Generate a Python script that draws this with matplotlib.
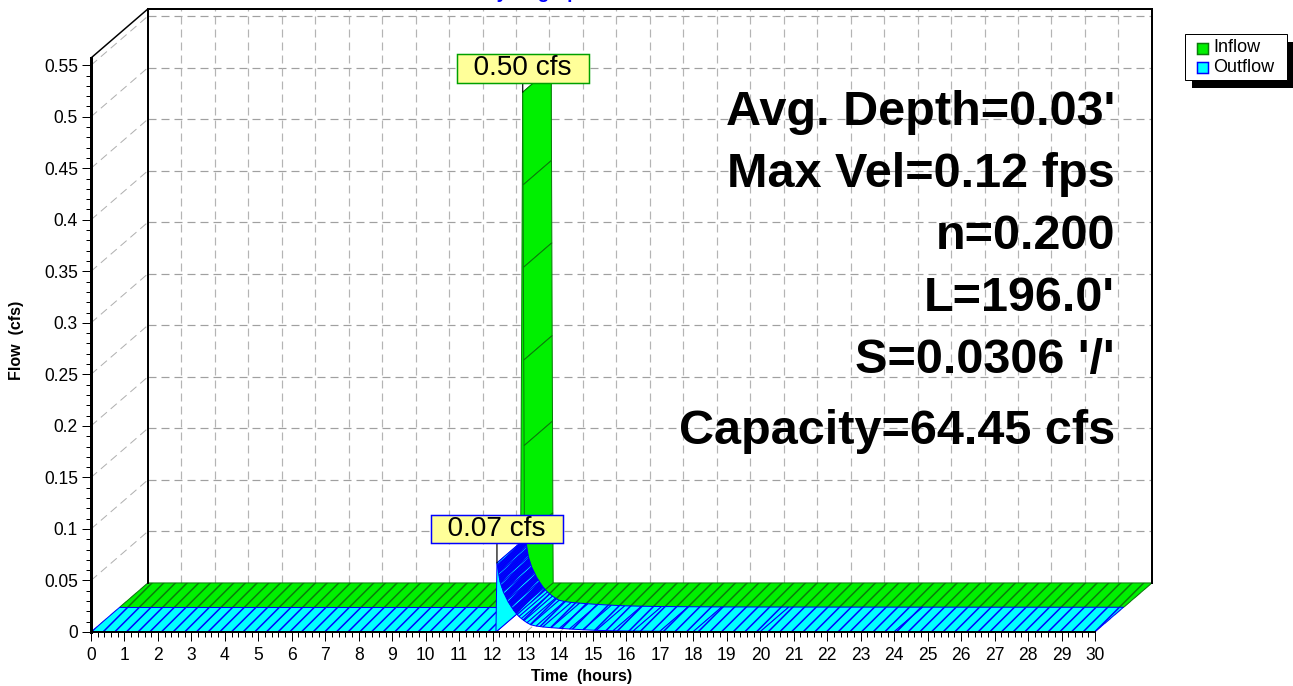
import matplotlib

matplotlib.use("Agg")
import matplotlib.pyplot as plt
import numpy as np
from matplotlib.patches import Polygon, Rectangle
from matplotlib.ticker import FuncFormatter, MultipleLocator

W, H, DPI = 1294, 686, 140
PT = 72 / DPI  # pixel -> point

plt.rcParams["font.family"] = ["Liberation Sans", "DejaVu Sans"]
plt.rcParams["hatch.linewidth"] = 1.5 * PT
plt.rcParams["lines.scale_dashes"] = False

# hydrographs (hours, cfs)
inflow_t = [0.0, 11.98, 12.05, 12.06, 12.07, 12.08, 12.09, 12.10, 12.11, 30.0]
inflow_q = [0.0, 0.0, 0.50, 0.41, 0.33, 0.24, 0.157, 0.068, 0.0, 0.0]
outflow_t = [0.0, 12.10, 12.13, 12.14, 12.15, 12.16, 12.17, 12.18, 12.19, 12.20,
             12.21, 12.22, 12.24, 12.26, 12.28, 12.30, 12.32, 12.35, 12.38, 12.41,
             12.44, 12.47, 12.51, 12.55, 12.59, 12.63, 12.68, 12.73, 12.79, 12.86,
             12.94, 13.03, 13.14, 13.30, 13.50, 13.75, 14.00, 14.30, 14.70, 15.10,
             15.60, 16.20, 17.00, 18.00, 20.00, 24.00, 30.00]
outflow_q = [0.0, 0.0, 0.067, 0.065, 0.063, 0.061, 0.059, 0.057, 0.055, 0.053,
             0.051, 0.049, 0.047, 0.045, 0.043, 0.041, 0.039, 0.037, 0.035, 0.033,
             0.031, 0.029, 0.027, 0.025, 0.023, 0.021, 0.019, 0.017, 0.015, 0.013,
             0.011, 0.009, 0.007, 0.0058, 0.0049, 0.0042, 0.0036, 0.0029, 0.0022, 0.0016,
             0.0012, 0.0009, 0.0007, 0.0005, 0.0004, 0.0003, 0.0002]
series_names = ["Inflow", "Outflow"]
peak_t = [12.05, 12.13]
peak_q = [0.50, 0.067]
peak_labels = ["0.50 cfs", "0.07 cfs"]
stats = ["Avg. Depth=0.03'", "Max Vel=0.12 fps", "n=0.200", "L=196.0'",
         "S=0.0306 '/'", "Capacity=64.45 cfs"]

X_MAX, Y_MAX = 30, 0.557
DX, DY = 1.70, 0.0476          # depth of the pseudo-3D box in data units
LEFT, BOTTOM, RIGHT, TOP = 91, 632, 1095, 58   # front plane, pixels
PX_X = (RIGHT - LEFT) / X_MAX
PX_Y = (BOTTOM - TOP) / Y_MAX

GREEN, DKGREEN = "#00f000", "#0b7a0b"
CYAN, BLUE = "#00ffff", "#0000ff"


def fx(x):
    return x / W


def fy(y):
    return 1 - y / H


def ribbon(ax, t, q, d0, d1, face, edge, shade, z):
    """Top surface of a hydrograph ribbon, one parallelogram per time step.

    Flat steps get a hatched fill; steep falling steps get the 'shade' look
    (fill, hatch colour) so the dense part of a recession reads dark.
    """
    for i in range(len(t) - 1):
        x0, x1, y0, y1 = t[i], t[i + 1], q[i], q[i + 1]
        pts = [(x0 + d0 * DX, y0 + d0 * DY), (x1 + d0 * DX, y1 + d0 * DY),
               (x1 + d1 * DX, y1 + d1 * DY), (x0 + d1 * DX, y0 + d1 * DY)]
        steep = abs(y1 - y0) * PX_Y > 1.2 * abs(x1 - x0) * PX_X
        if steep and y1 < y0:
            fc, hc, hatch = shade
        elif steep:
            fc, hc, hatch = face, edge, None
        else:
            fc, hc, hatch = face, edge, "////"
        ax.add_patch(Polygon(pts, closed=True, facecolor=fc, edgecolor=hc, lw=0,
                             hatch=hatch, clip_on=False, zorder=z))
        ax.add_patch(Polygon(pts, closed=True, fill=False, edgecolor=edge,
                             lw=1.0 * PT, clip_on=False, zorder=z))


fig = plt.figure(figsize=(W / DPI, H / DPI), dpi=DPI)
ax = fig.add_axes([fx(LEFT), fy(BOTTOM), (RIGHT - LEFT) / W, (BOTTOM - TOP) / H])
ax.set_xlim(0, X_MAX)
ax.set_ylim(0, Y_MAX)
ax.patch.set_visible(False)

# back wall / side wall / floor grid
dash = (0, (8 * PT, 5 * PT))
yt = np.round(np.arange(0.05, 0.551, 0.05), 2)
for q in yt:
    ax.plot([DX, X_MAX + DX], [q + DY] * 2, color="#a0a0a0", lw=1.2 * PT, ls=dash,
            clip_on=False, zorder=1)
    ax.plot([0, DX], [q, q + DY], color="#b0b0b0", lw=1.0 * PT, ls=dash,
            clip_on=False, zorder=1)
for h in range(1, X_MAX):
    ax.plot([h + DX] * 2, [DY, Y_MAX + DY], color="#b4b4b4", lw=1.2 * PT, ls=dash,
            clip_on=False, zorder=1)
for h in range(0, X_MAX + 1):
    ax.plot([h, h + DX], [0, DY], color="#b0b0b0", lw=1.0 * PT, ls=dash,
            clip_on=False, zorder=1)

# box outline
kw = dict(color="black", clip_on=False, zorder=4, solid_capstyle="projecting")
ax.plot([DX, DX], [DY, Y_MAX + DY], lw=2 * PT, **kw)
ax.plot([X_MAX + DX] * 2, [DY, Y_MAX + DY], lw=2 * PT, **kw)
ax.plot([DX, X_MAX + DX], [Y_MAX + DY] * 2, lw=2 * PT, **kw)
ax.plot([0, DX], [Y_MAX, Y_MAX + DY], lw=1.5 * PT, **kw)

# ribbons: inflow behind, outflow in front
ribbon(ax, inflow_t, inflow_q, 0.5, 1.0, GREEN, DKGREEN, (GREEN, GREEN, None), 2)
ribbon(ax, outflow_t, outflow_q, 0.0, 0.5, CYAN, BLUE, ("#0000f0", CYAN, "////"), 3)

# axes
for s in ("top", "right"):
    ax.spines[s].set_visible(False)
ax.spines["left"].set_linewidth(3 * PT)
ax.spines["bottom"].set_linewidth(2 * PT)
ax.spines["left"].set_zorder(5)
ax.spines["bottom"].set_zorder(5)
ax.xaxis.set_major_locator(MultipleLocator(1))
ax.xaxis.set_minor_locator(MultipleLocator(0.2))
ax.yaxis.set_major_locator(MultipleLocator(0.05))
ax.yaxis.set_minor_locator(MultipleLocator(0.01))
ax.yaxis.set_major_formatter(FuncFormatter(lambda v, p: f"{v:g}"))
ax.tick_params(which="major", length=9 * PT, width=1 * PT, labelsize=17.5 * PT,
               direction="out")
ax.tick_params(which="minor", length=5 * PT, width=1 * PT, direction="out")
ax.tick_params(axis="x", pad=6 * PT)
ax.tick_params(axis="y", pad=4 * PT)

fig.text(fx(17), fy(340), "Flow  (cfs)", rotation=90, ha="center", va="center",
         fontsize=16 * PT, weight="bold")
fig.text(fx(582), fy(677), "Time  (hours)", ha="center", va="center",
         fontsize=16 * PT, weight="bold")
# chart title sits mostly above the visible canvas
fig.text(fx(537), fy(-2), "Hydrograph", ha="center", va="baseline",
         fontsize=19 * PT, weight="bold", color=BLUE)

# peak labels
depths = [0.5, 0.0]
box_edges = ["#00a000", BLUE]
offsets = [24, 34]
for i in range(2):
    ax.annotate("  " + peak_labels[i] + "  ",
                xy=(peak_t[i] + depths[i] * DX, peak_q[i] + depths[i] * DY),
                xytext=(0, offsets[i]), textcoords="offset pixels",
                ha="center", va="center", fontsize=28 * PT, zorder=8,
                annotation_clip=False,
                bbox=dict(boxstyle="square,pad=0.05", fc="#ffff99",
                          ec=box_edges[i], lw=1.5 * PT),
                arrowprops=dict(arrowstyle="-", color="black", lw=1.2 * PT,
                                shrinkA=0, shrinkB=0))

# reach stats
baselines = [125, 187, 249, 311, 373, 444]
for s, b in zip(stats, baselines):
    fig.text(fx(1115), fy(b), s, ha="right", va="baseline", fontsize=48.6 * PT,
             weight="bold", zorder=6)

# legend with hard shadow
fig.add_artist(Rectangle((fx(1192), fy(88)), 101 / W, 46 / H, transform=fig.transFigure,
                         fc="black", ec="none"))
fig.add_artist(Rectangle((fx(1185), fy(80)), 102 / W, 46 / H, transform=fig.transFigure,
                         fc="white", ec="black", lw=1 * PT))
leg_face = [GREEN, CYAN]
leg_edge = [DKGREEN, BLUE]
for i, name in enumerate(series_names):
    yc = 48 + 19 * i
    fig.add_artist(Rectangle((fx(1197), fy(yc + 5.5)), 11 / W, 11 / H,
                             transform=fig.transFigure, fc=leg_face[i],
                             ec=leg_edge[i], lw=1.5 * PT))
    fig.text(fx(1213), fy(yc), name, ha="left", va="center", fontsize=18 * PT)

fig.savefig("out.png", dpi=DPI, facecolor="white")
